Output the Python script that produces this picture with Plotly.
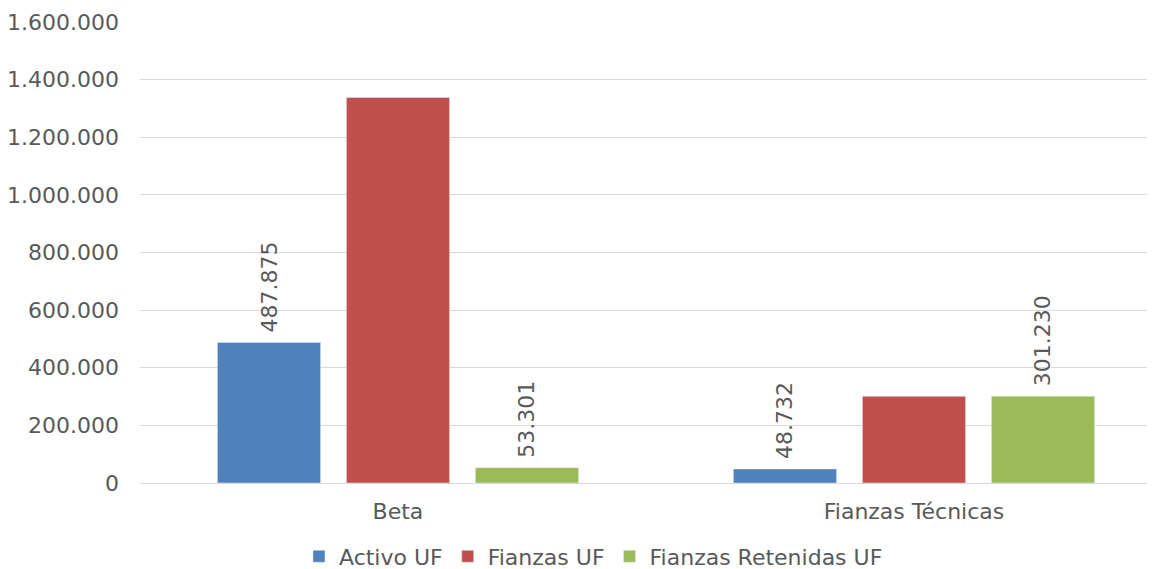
import plotly.graph_objects as go

categories = ["Beta", "Fianzas Técnicas"]
activo_uf = [487875, 48732]
fianzas_uf = [1338000, 301000]
fianzas_ret_uf = [53301, 301230]
activo_labels = ["487.875", "48.732"]
fianzas_ret_labels = ["53.301", "301.230"]
y_ticks = [0, 200000, 400000, 600000, 800000, 1000000, 1200000, 1400000, 1600000]
y_tick_labels = ["0", "200.000", "400.000", "600.000", "800.000", "1.000.000", "1.200.000", "1.400.000", "1.600.000"]

FONT = "DejaVu Sans, Verdana, sans-serif"
TXT = "#595959"
FS = 22
PAD = "\u00a0"

fig = go.Figure()
fig.add_trace(go.Bar(name="Activo UF", x=categories, y=activo_uf, marker_color="#4F81BD",
                     text=[PAD + t for t in activo_labels], textposition="outside", textangle=-90,
                     textfont=dict(family=FONT, size=FS, color=TXT), cliponaxis=False))
fig.add_trace(go.Bar(name="Fianzas UF", x=categories, y=fianzas_uf, marker_color="#C0504D",
                     cliponaxis=False))
fig.add_trace(go.Bar(name="Fianzas Retenidas UF", x=categories, y=fianzas_ret_uf, marker_color="#9BBB59",
                     text=[PAD + t for t in fianzas_ret_labels], textposition="outside", textangle=-90,
                     textfont=dict(family=FONT, size=FS, color=TXT), cliponaxis=False))

fig.update_layout(
    width=1157, height=569,
    margin=dict(l=140, r=10, t=22, b=86),
    paper_bgcolor="white", plot_bgcolor="white",
    barmode="group", bargap=0.25, bargroupgap=0.2,
    font=dict(family=FONT, size=FS, color=TXT),
    showlegend=True,
    legend=dict(orientation="h", xref="container", yref="container",
                x=0.2584, xanchor="left", y=0.022, yanchor="middle",
                font=dict(family=FONT, size=FS, color=TXT), itemwidth=30, traceorder="normal"),
)
fig.update_xaxes(range=[-0.5, 1.4516], showgrid=False, showline=True, linecolor="#d9d9d9",
                 linewidth=1, ticks="", ticklabelstandoff=9,
                 tickfont=dict(family=FONT, size=FS, color=TXT))
fig.update_yaxes(range=[0, 1600000], tickvals=y_ticks, ticktext=y_tick_labels,
                 showgrid=True, gridcolor="#d9d9d9", gridwidth=1, zeroline=False,
                 ticks="", ticklabelstandoff=20, tickfont=dict(family=FONT, size=FS, color=TXT),
                 automargin=False)

fig.write_html("out.html", config={"displayModeBar": False},
               post_script="document.body.style.margin='0';")
